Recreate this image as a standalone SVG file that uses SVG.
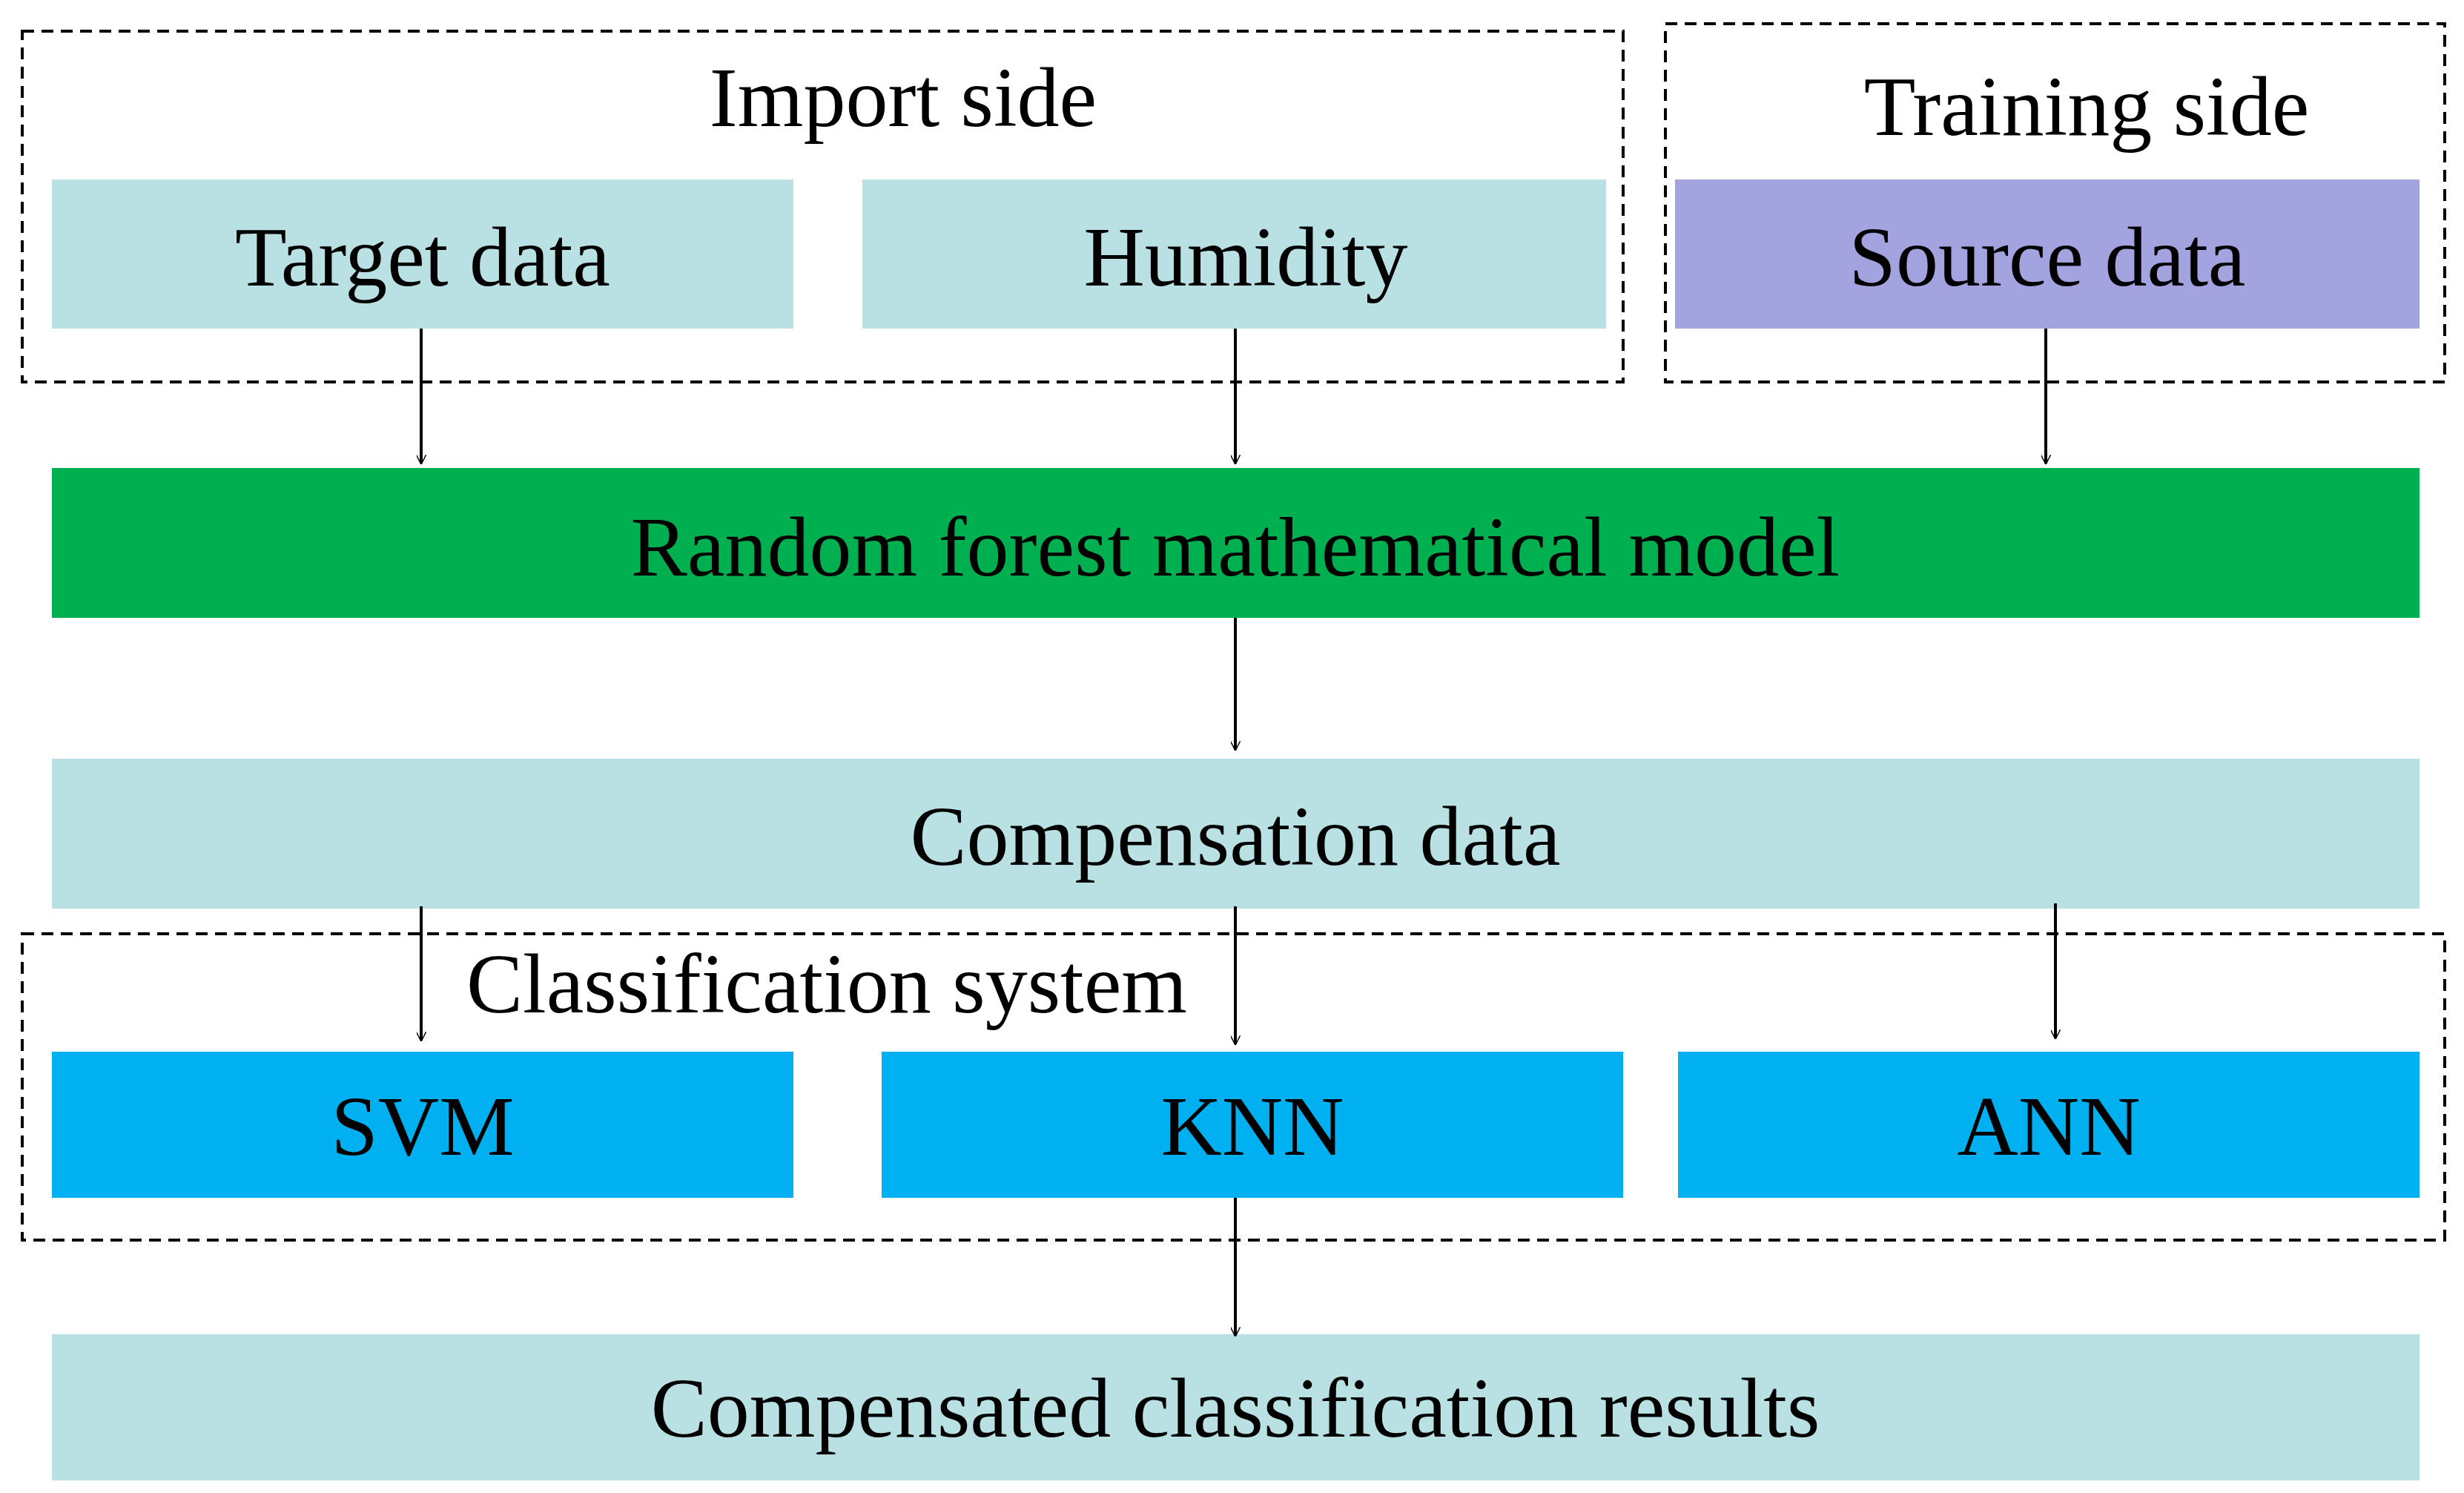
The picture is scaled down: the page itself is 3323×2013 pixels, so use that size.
<svg xmlns="http://www.w3.org/2000/svg" width="3323" height="2013" viewBox="0 0 3323 2013">
<style>
text{font-family:"Liberation Serif","Times New Roman",serif;font-size:114px;fill:#000;text-anchor:middle}
.dash{fill:none;stroke:#000;stroke-width:4;stroke-dasharray:16 10}
.lb{fill:#b9e0e3}
.cl{fill:#00b0f0}
.ar{stroke:#000;stroke-width:4;fill:none;marker-end:url(#m)}
</style>
<defs><marker id="m" viewBox="0 0 20 20" refX="18" refY="10" markerWidth="13" markerHeight="13" markerUnits="userSpaceOnUse" orient="auto"><path d="M0,0 L20,10 L0,20" fill="none" stroke="#000" stroke-width="2.2"/></marker></defs>
<rect width="3323" height="2013" fill="#fff"/>
<g id="import-side"><rect class="dash" x="30" y="42" width="2159" height="473"/><text x="1218" y="170">Import side</text></g>
<g id="training-side"><rect class="dash" x="2246" y="32" width="1051" height="483"/><text x="2814" y="182">Training side</text></g>
<g id="target"><rect class="lb" x="70" y="242" width="1000" height="201"/><text x="570" y="385">Target data</text></g>
<g id="humidity"><rect class="lb" x="1163" y="242" width="1003" height="201"/><text x="1680" y="385">Humidity</text></g>
<g id="source"><rect fill="#a3a3e0" x="2259" y="242" width="1004" height="201"/><text x="2761" y="385">Source data</text></g>
<g id="rf"><rect fill="#00b050" x="70" y="631" width="3193" height="202"/><text x="1666" y="776">Random forest mathematical model</text></g>
<g id="comp"><rect class="lb" x="70" y="1023" width="3193" height="202"/><text x="1666" y="1166">Compensation data</text></g>
<g id="classification"><rect class="dash" x="30" y="1259" width="3267" height="413"/><text x="1115" y="1365">Classification system</text></g>
<g id="svm"><rect class="cl" x="70" y="1418" width="1000" height="197"/><text x="570" y="1557">SVM</text></g>
<g id="knn"><rect class="cl" x="1189" y="1418" width="1000" height="197"/><text x="1689" y="1557">KNN</text></g>
<g id="ann"><rect class="cl" x="2263" y="1418" width="1000" height="197"/><text x="2763" y="1557">ANN</text></g>
<g id="results"><rect class="lb" x="70" y="1799" width="3193" height="197"/><text x="1666" y="1937">Compensated classification results</text></g>
<g id="connectors">
<line class="ar" x1="568" y1="443" x2="568" y2="625"/>
<line class="ar" x1="1666" y1="443" x2="1666" y2="625"/>
<line class="ar" x1="2759" y1="443" x2="2759" y2="625"/>
<line class="ar" x1="1666" y1="833" x2="1666" y2="1011"/>
<line class="ar" x1="568" y1="1222" x2="568" y2="1403"/>
<line class="ar" x1="1666" y1="1222" x2="1666" y2="1408"/>
<line class="ar" x1="2772" y1="1218" x2="2772" y2="1400"/>
<line class="ar" x1="1666" y1="1615" x2="1666" y2="1801"/>
</g>
</svg>
